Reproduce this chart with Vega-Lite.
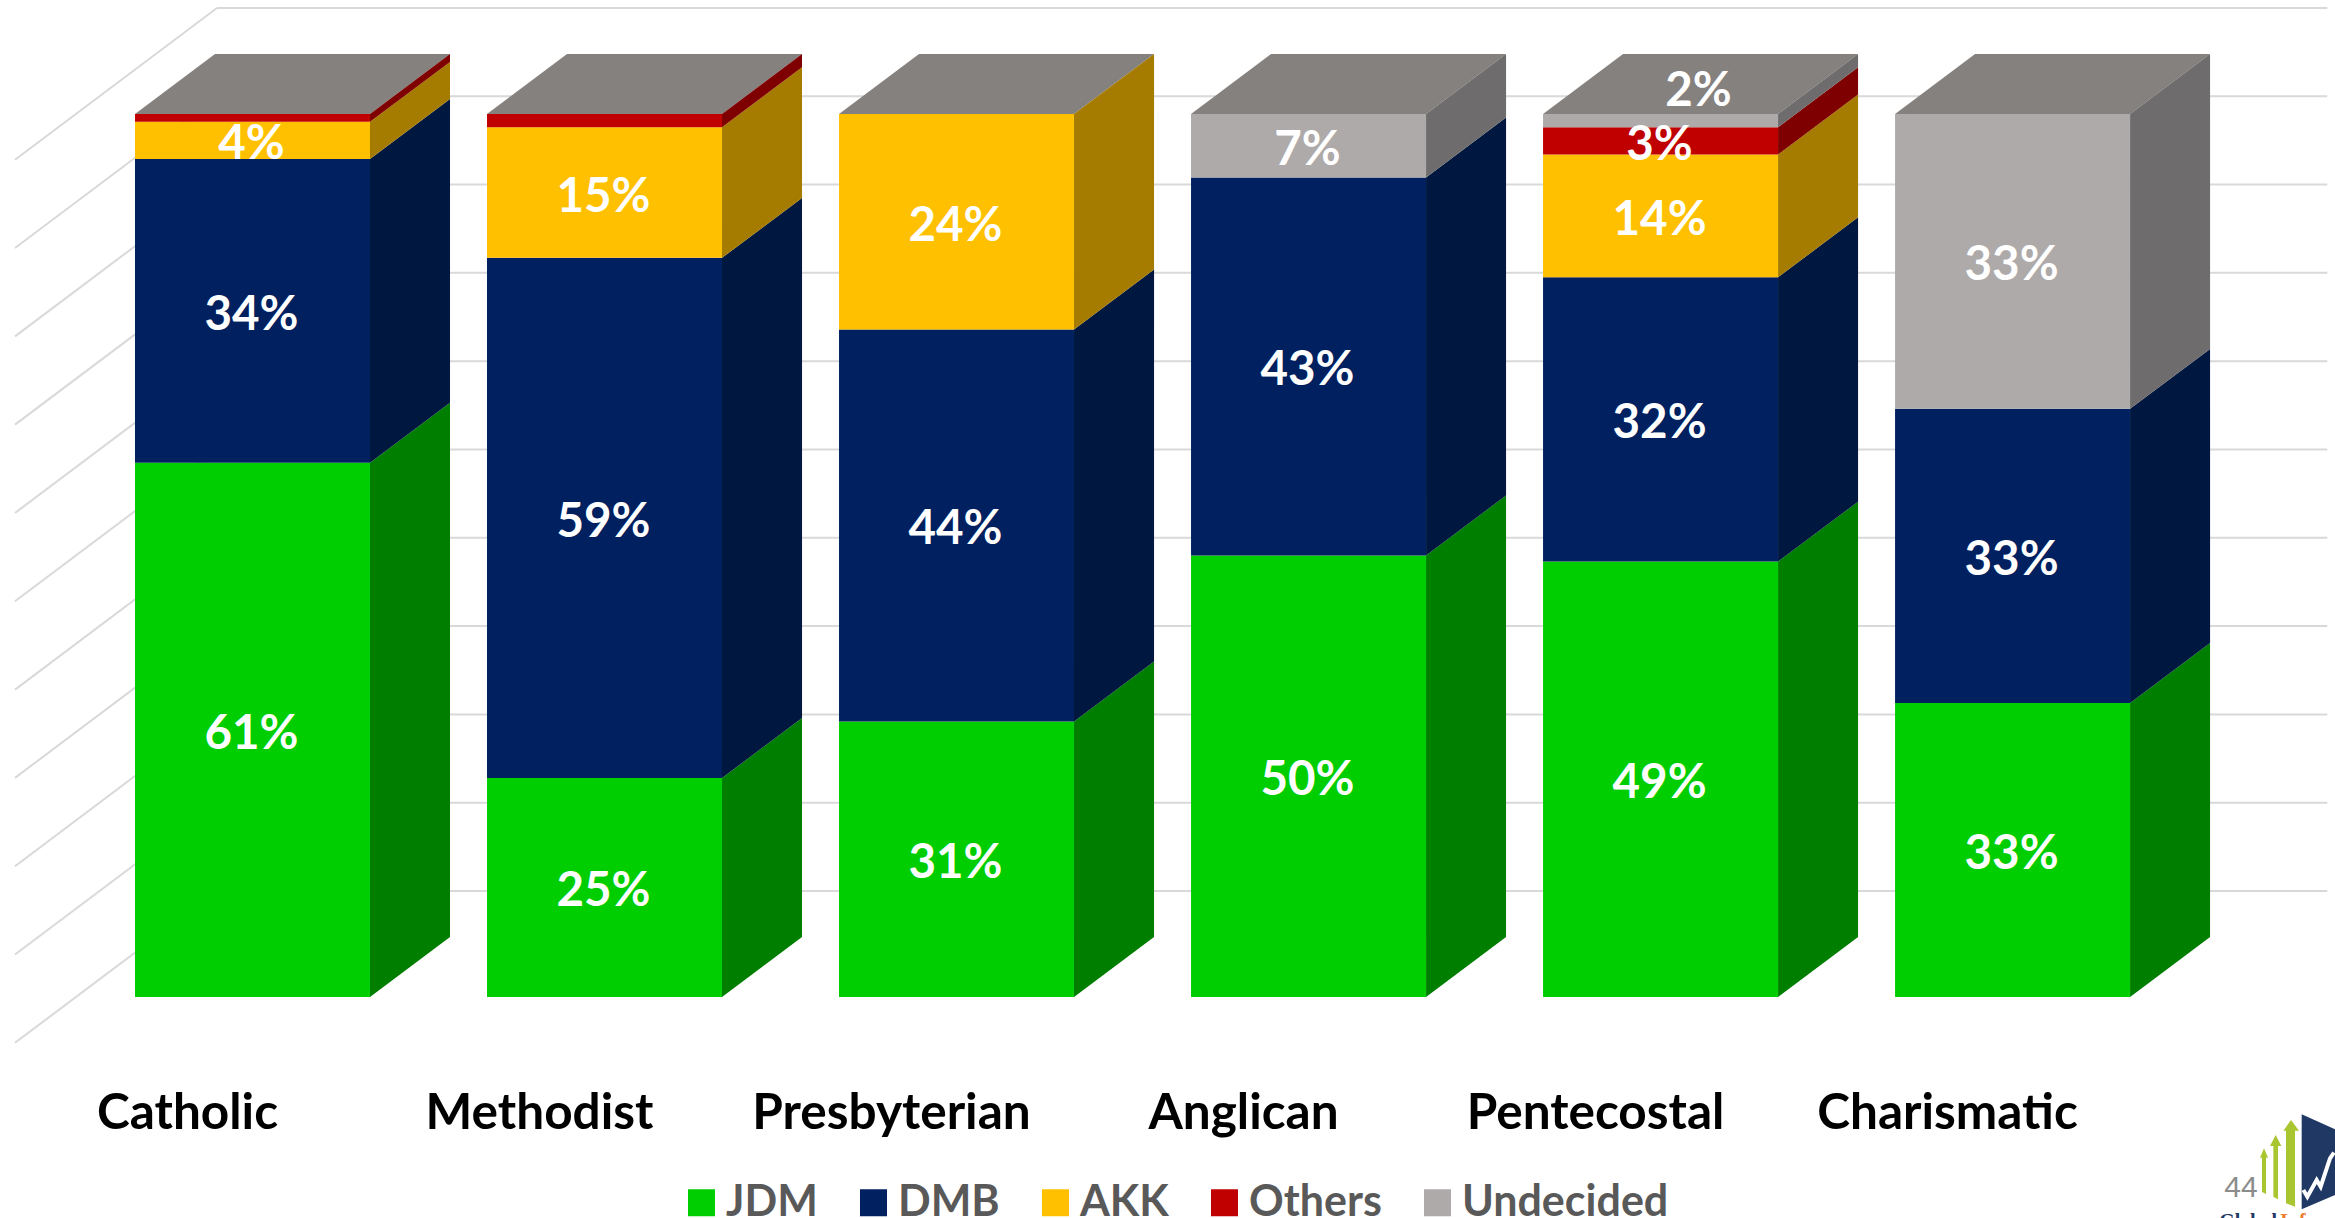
{
"$schema":"https://vega.github.io/schema/vega-lite/v6.json",
"width":2335,"height":1218,
"autosize":"none",
"padding":0,
"background":"white",
"config":{"view":{"stroke":null},"axis":{"domain":false,"grid":false,"ticks":false,"labels":false,"title":null}},
"datasets":{
"shares":[
{"religion":"Catholic","party":"JDM","share":60.5},{"religion":"Catholic","party":"DMB","share":34.4},{"religion":"Catholic","party":"AKK","share":4.2},{"religion":"Catholic","party":"Others","share":0.9},
{"religion":"Methodist","party":"JDM","share":24.8},{"religion":"Methodist","party":"DMB","share":58.9},{"religion":"Methodist","party":"AKK","share":14.8},{"religion":"Methodist","party":"Others","share":1.5},
{"religion":"Presbyterian","party":"JDM","share":31.2},{"religion":"Presbyterian","party":"DMB","share":44.4},{"religion":"Presbyterian","party":"AKK","share":24.4},
{"religion":"Anglican","party":"JDM","share":50.0},{"religion":"Anglican","party":"DMB","share":42.8},{"religion":"Anglican","party":"Undecided","share":7.2},
{"religion":"Pentecostal","party":"JDM","share":49.3},{"religion":"Pentecostal","party":"DMB","share":32.2},{"religion":"Pentecostal","party":"AKK","share":13.9},{"religion":"Pentecostal","party":"Others","share":3.1},{"religion":"Pentecostal","party":"Undecided","share":1.5},
{"religion":"Charismatic","party":"JDM","share":33.3},{"religion":"Charismatic","party":"DMB","share":33.3},{"religion":"Charismatic","party":"Undecided","share":33.4}
],
"religions":[{"religion":"Catholic"},{"religion":"Methodist"},{"religion":"Presbyterian"},{"religion":"Anglican"},{"religion":"Pentecostal"},{"religion":"Charismatic"}],
"ticks":[{"tick":0},{"tick":10},{"tick":20},{"tick":30},{"tick":40},{"tick":50},{"tick":60},{"tick":70},{"tick":80},{"tick":90},{"tick":100}]
},
"layer":[
{"data":{"name":"ticks"},
 "transform":[{"calculate":"datum.tick+12","as":"yb"},{"calculate":"datum.tick-5.19","as":"yf"}],
 "layer":[
 {"mark":{"type":"rule","stroke":"#D9D9D9","strokeWidth":2},
  "encoding":{"x":{"datum":-0.1009,"type":"quantitative","scale":{"domain":[-0.7173,5.916],"nice":false,"zero":false},"axis":null},"x2":{"datum":5.894},
  "y":{"field":"yb","type":"quantitative","scale":{"domain":[-25.03,112.9],"nice":false,"zero":false},"axis":null}}},
 {"mark":{"type":"rule","stroke":"#D9D9D9","strokeWidth":2},
  "encoding":{"x":{"datum":-0.6747,"type":"quantitative","scale":{"domain":[-0.7173,5.916],"nice":false,"zero":false},"axis":null},"x2":{"datum":-0.1009},
  "y":{"field":"yf","type":"quantitative","scale":{"domain":[-25.03,112.9],"nice":false,"zero":false},"axis":null},"y2":{"field":"yb"}}}
 ]},
{"data":{"name":"religions"},
 "transform":[
 {"calculate":"indexof(['Catholic','Methodist','Presbyterian','Anglican','Pentecostal','Charismatic'],datum.religion)","as":"i"},
 {"calculate":"0","as":"p0"},{"calculate":"1","as":"p1"},{"calculate":"2","as":"p2"},{"calculate":"3","as":"p3"},
 {"fold":["p0","p1","p2","p3"],"as":["corner","p"]},
 {"calculate":"datum.i-0.3338+[0,0.2273,0.6676,0.8949][datum.p]","as":"fx"},
 {"calculate":"datum.p==0?100:106.79","as":"fy"},
 {"calculate":"datum.p==3?106.79:100","as":"fy2"}
 ],
 "mark":{"type":"area","orient":"vertical","fill":"#85817F"},
 "encoding":{"x":{"field":"fx","type":"quantitative","scale":{"domain":[-0.7173,5.916],"nice":false,"zero":false},"axis":null},
 "y":{"field":"fy","type":"quantitative","scale":{"domain":[-25.03,112.9],"nice":false,"zero":false},"axis":null,"stack":null},
 "y2":{"field":"fy2"},"detail":{"field":"religion"}}},
{"data":{"name":"shares"},
 "transform":[
 {"calculate":"indexof(['Catholic','Methodist','Presbyterian','Anglican','Pentecostal','Charismatic'],datum.religion)","as":"i"},
 {"calculate":"indexof(['JDM','DMB','AKK','Others','Undecided'],datum.party)","as":"o"},
 {"stack":"share","groupby":["religion"],"sort":[{"field":"o"}],"as":["v0","v1"]},
 {"calculate":"datum.i-0.3338","as":"xl"},{"calculate":"datum.i+0.3338","as":"xr"},{"calculate":"(datum.v0+datum.v1)/2","as":"mid"},
 {"calculate":"format(datum.share,'.0f')+'%'","as":"label"}
 ],
 "layer":[
 {"transform":[
  {"calculate":"0","as":"s0"},{"calculate":"1","as":"s1"},
  {"fold":["s0","s1"],"as":["edge","s"]},
  {"calculate":"datum.xr+datum.s*0.2273","as":"sx"},
  {"calculate":"datum.v0+datum.s*6.79","as":"sy0"},{"calculate":"datum.v1+datum.s*6.79","as":"sy1"}
  ],
  "mark":{"type":"area","orient":"vertical"},
  "encoding":{"x":{"field":"sx","type":"quantitative","scale":{"domain":[-0.7173,5.916],"nice":false,"zero":false},"axis":null},
  "y":{"field":"sy0","type":"quantitative","scale":{"domain":[-25.03,112.9],"nice":false,"zero":false},"axis":null,"stack":null},
  "y2":{"field":"sy1"},"detail":{"field":"religion"},
  "color":{"field":"party","type":"nominal","legend":null,"scale":{"domain":["JDM","DMB","AKK","Others","Undecided"],"range":["#007E00","#00173F","#A67C00","#7F0000","#6E6C6C"]}}}},
 {"mark":{"type":"rect"},
  "encoding":{"x":{"field":"xl","type":"quantitative","scale":{"domain":[-0.7173,5.916],"nice":false,"zero":false},"axis":null},"x2":{"field":"xr"},
  "y":{"field":"v0","type":"quantitative","scale":{"domain":[-25.03,112.9],"nice":false,"zero":false},"axis":null},"y2":{"field":"v1"},
  "color":{"field":"party","type":"nominal","scale":{"domain":["JDM","DMB","AKK","Others","Undecided"],"range":["#00CE00","#002060","#FFC000","#C00000","#AEAAAA"]},
   "legend":{"orient":"none","legendX":680,"legendY":1181,"direction":"horizontal","columns":5,"title":null,"symbolType":"square","symbolSize":729,"symbolStrokeWidth":0,"labelFontSize":43,"labelFont":"Lato","labelFontWeight":"bold","labelColor":"#595959","labelOffset":3,"columnPadding":34,"labelLimit":400,"symbolOpacity":1}}}},
 {"transform":[{"filter":"(datum.party!='Others'||datum.religion=='Pentecostal')&&!(datum.party=='Undecided'&&datum.religion=='Pentecostal')"}],
  "mark":{"type":"text","font":"Lato","fontWeight":"bold","fontSize":47.5,"fill":"white","align":"center","baseline":"middle","dy":5,"dx":-1},
  "encoding":{"x":{"field":"i","type":"quantitative","scale":{"domain":[-0.7173,5.916],"nice":false,"zero":false},"axis":null},
  "y":{"field":"mid","type":"quantitative","scale":{"domain":[-25.03,112.9],"nice":false,"zero":false},"axis":null},"text":{"field":"label"}}},
 {"transform":[{"filter":"datum.party=='Undecided'&&datum.religion=='Pentecostal'"}],
  "mark":{"type":"text","font":"Lato","fontWeight":"bold","fontSize":47.5,"fill":"white","align":"center","baseline":"middle","dx":38,"dy":-29},
  "encoding":{"x":{"field":"i","type":"quantitative","scale":{"domain":[-0.7173,5.916],"nice":false,"zero":false},"axis":null},
  "y":{"field":"mid","type":"quantitative","scale":{"domain":[-25.03,112.9],"nice":false,"zero":false},"axis":null},"text":{"field":"label"}}}
 ],
 "resolve":{"scale":{"color":"independent"}}},
{"data":{"name":"religions"},
 "transform":[{"calculate":"indexof(['Catholic','Methodist','Presbyterian','Anglican','Pentecostal','Charismatic'],datum.religion)","as":"i"}],
 "mark":{"type":"text","font":"Lato","fontWeight":"bold","fontSize":49.5,"fill":"black","align":"center","baseline":"middle","dx":-65},
 "encoding":{"x":{"field":"i","type":"quantitative","scale":{"domain":[-0.7173,5.916],"nice":false,"zero":false},"axis":null},
 "y":{"datum":-13.2,"type":"quantitative","scale":{"domain":[-25.03,112.9],"nice":false,"zero":false},"axis":null},"text":{"field":"religion"}}},
{"data":{"values":[{"page":"44"}]},
 "mark":{"type":"text","font":"Liberation Sans","fontSize":30,"fill":"#8C8C8C","align":"center","baseline":"middle"},
 "encoding":{"x":{"datum":5.649,"type":"quantitative","scale":{"domain":[-0.7173,5.916],"nice":false,"zero":false},"axis":null},
 "y":{"datum":-21.63,"type":"quantitative","scale":{"domain":[-25.03,112.9],"nice":false,"zero":false},"axis":null},"text":{"field":"page"}}},
{"data":{"values":[{"word":"Global"}]},
 "mark":{"type":"text","font":"Liberation Serif","fontWeight":"bold","fontSize":20,"fill":"#1F3864","align":"left","baseline":"top"},
 "encoding":{"x":{"datum":5.587,"type":"quantitative","scale":{"domain":[-0.7173,5.916],"nice":false,"zero":false},"axis":null},
 "y":{"datum":-24.4,"type":"quantitative","scale":{"domain":[-25.03,112.9],"nice":false,"zero":false},"axis":null},"text":{"field":"word"}}},
{"data":{"values":[{"word":"Info"}]},
 "mark":{"type":"text","font":"Liberation Serif","fontWeight":"bold","fontSize":20,"fill":"#ED7D31","align":"left","baseline":"top"},
 "encoding":{"x":{"datum":5.76,"type":"quantitative","scale":{"domain":[-0.7173,5.916],"nice":false,"zero":false},"axis":null},
 "y":{"datum":-24.4,"type":"quantitative","scale":{"domain":[-25.03,112.9],"nice":false,"zero":false},"axis":null},"text":{"field":"word"}}},
{"data":{"values":[{"logo":"navy"}]},
 "mark":{"type":"point","filled":true,"fill":"#1F3864","opacity":1,"strokeWidth":0,"size":10000,"shape":"M0.333,-1.013 L1,-0.713 L1,0.6 L0.333,0.887 Z"},
 "encoding":{"x":{"datum":5.774,"type":"quantitative","scale":{"domain":[-0.7173,5.916],"nice":false,"zero":false},"axis":null},
 "y":{"datum":-19.03,"type":"quantitative","scale":{"domain":[-25.03,112.9],"nice":false,"zero":false},"axis":null}}},
{"data":{"values":[{"logo":"zigzag"}]},
 "mark":{"type":"point","filled":false,"stroke":"white","opacity":1,"strokeWidth":4,"size":10000,"shape":"M0.367,0.5 L0.447,0.633 L0.633,0.3 L0.713,0.433 L0.9,-0.133 L0.98,-0.25"},
 "encoding":{"x":{"datum":5.774,"type":"quantitative","scale":{"domain":[-0.7173,5.916],"nice":false,"zero":false},"axis":null},
 "y":{"datum":-19.03,"type":"quantitative","scale":{"domain":[-25.03,112.9],"nice":false,"zero":false},"axis":null}}},
{"data":{"values":[{"logo":"arrows"}]},
 "mark":{"type":"point","filled":true,"fill":"#A9C52F","opacity":1,"strokeWidth":0,"size":10000,"shape":"M0.12,-0.9 L0.28,-0.687 L0.2,-0.687 L0.2,0.833 L0.02,0.767 L0.02,-0.687 L-0.033,-0.687 Z M-0.187,-0.6 L-0.073,-0.38 L-0.14,-0.38 L-0.14,0.687 L-0.233,0.633 L-0.233,-0.38 L-0.3,-0.38 Z M-0.42,-0.333 L-0.34,-0.147 L-0.38,-0.147 L-0.38,0.58 L-0.46,0.54 L-0.46,-0.147 L-0.5,-0.147 Z"},
 "encoding":{"x":{"datum":5.774,"type":"quantitative","scale":{"domain":[-0.7173,5.916],"nice":false,"zero":false},"axis":null},
 "y":{"datum":-19.03,"type":"quantitative","scale":{"domain":[-25.03,112.9],"nice":false,"zero":false},"axis":null}}}
]
}
